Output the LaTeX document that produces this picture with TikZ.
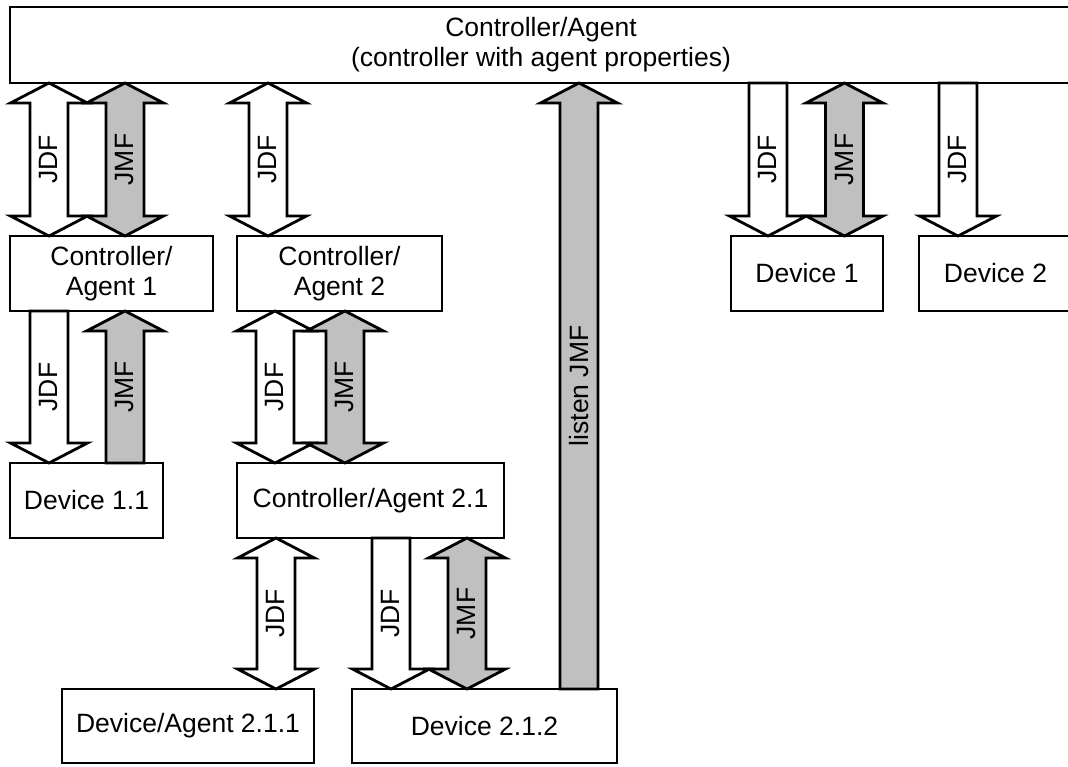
\documentclass[tikz,border=0pt]{standalone}
\usepackage{fontspec}
\setmainfont{Liberation Sans}
\usetikzlibrary{calc}

\definecolor{jmfgray}{RGB}{192,192,192}

\tikzset{
  box/.style={draw, line width=2.8pt, outer sep=0pt, inner sep=0pt, align=center,
    minimum height=75pt, font=\fontsize{26.5}{30}\selectfont},
  blk/.style={draw, line width=2.8pt},
  lbl/.style={rotate=90, inner sep=0pt, font=\fontsize{26.5}{30}\selectfont},
}

% block arrow, heads at both ends: x, upper node, lower node, fill, text
\newcommand{\both}[5]{
  \path (#1,0 |- #2.south) coordinate (t) (#1,0 |- #3.north) coordinate (b);
  \draw [blk, fill=#4] (t) -- ($(t)+(38.5,20)$) -- ($(t)+(19,20)$) -- ($(b)+(19,-20)$)
    -- ($(b)+(38.5,-20)$) -- (b) -- ($(b)+(-38.5,-20)$) -- ($(b)+(-19,-20)$)
    -- ($(t)+(-19,20)$) -- ($(t)+(-38.5,20)$) -- cycle;
  \node [lbl] (#2#1) at ($(t)!0.5!(b)$) {#5};
}
% block arrow, head at the lower end
\newcommand{\down}[5]{
  \path (#1,0 |- #2.south) coordinate (t) (#1,0 |- #3.north) coordinate (b);
  \draw [blk, fill=#4] ($(t)+(-19,0)$) -- ($(t)+(19,0)$) -- ($(b)+(19,-20)$)
    -- ($(b)+(38.5,-20)$) -- (b) -- ($(b)+(-38.5,-20)$) -- ($(b)+(-19,-20)$) -- cycle;
  \node [lbl] (#2#1) at ($(t)!0.5!(b)$) {#5};
}
% block arrow, head at the upper end
\newcommand{\up}[5]{
  \path (#1,0 |- #2.south) coordinate (t) (#1,0 |- #3.north) coordinate (b);
  \draw [blk, fill=#4] ($(b)+(-19,0)$) -- ($(b)+(19,0)$) -- ($(t)+(19,20)$)
    -- ($(t)+(38.5,20)$) -- (t) -- ($(t)+(-38.5,20)$) -- ($(t)+(-19,20)$) -- cycle;
  \node [lbl] (#2#1) at ($(t)!0.5!(b)$) {#5};
}

\begin{document}
\begin{tikzpicture}[x=1pt,y=-1pt]
\useasboundingbox (0,0) rectangle (1068,766);

\node [box, minimum width=1062pt, minimum height=76pt] (ca) at (541,45) {Controller/Agent\\(controller with agent properties)};

\node [box, minimum width=203pt] (ca1) at (111.5,273.5) {Controller/\\Agent 1};
\node [box, minimum width=205pt] (ca2) at (339.5,273.5) {Controller/\\Agent 2};
\node [box, minimum width=152pt] (d1) at (807,273.5) {Device 1};
\node [box, minimum width=153pt] (d2) at (995.5,273.5) {Device 2};

\node [box, minimum width=153pt] (d11) at (86.5,500.5) {Device 1.1};
\node [box, minimum width=267pt] (ca21) at (370.5,500.5) {Controller/Agent 2.1};

\node [box, minimum width=252pt, minimum height=74pt] (da211) at (188,726) {Device/Agent 2.1.1};
\node [box, minimum width=265pt, minimum height=74pt] (d212) at (484.5,726) {Device 2.1.2};

% top level
\both{49}{ca}{ca1}{white}{JDF}
\both{125}{ca}{ca1}{jmfgray}{JMF}
\both{268}{ca}{ca2}{white}{JDF}
\down{768}{ca}{d1}{white}{JDF}
\both{844.5}{ca}{d1}{jmfgray}{JMF}
\down{958}{ca}{d2}{white}{JDF}
\up{579}{ca}{d212}{jmfgray}{listen JMF}

% second level
\down{49}{ca1}{d11}{white}{JDF}
\up{125}{ca1}{d11}{jmfgray}{JMF}
\both{275}{ca2}{ca21}{white}{JDF}
\both{345}{ca2}{ca21}{jmfgray}{JMF}

% third level
\both{276}{ca21}{da211}{white}{JDF}
\down{391}{ca21}{d212}{white}{JDF}
\both{467}{ca21}{d212}{jmfgray}{JMF}

\end{tikzpicture}
\end{document}
